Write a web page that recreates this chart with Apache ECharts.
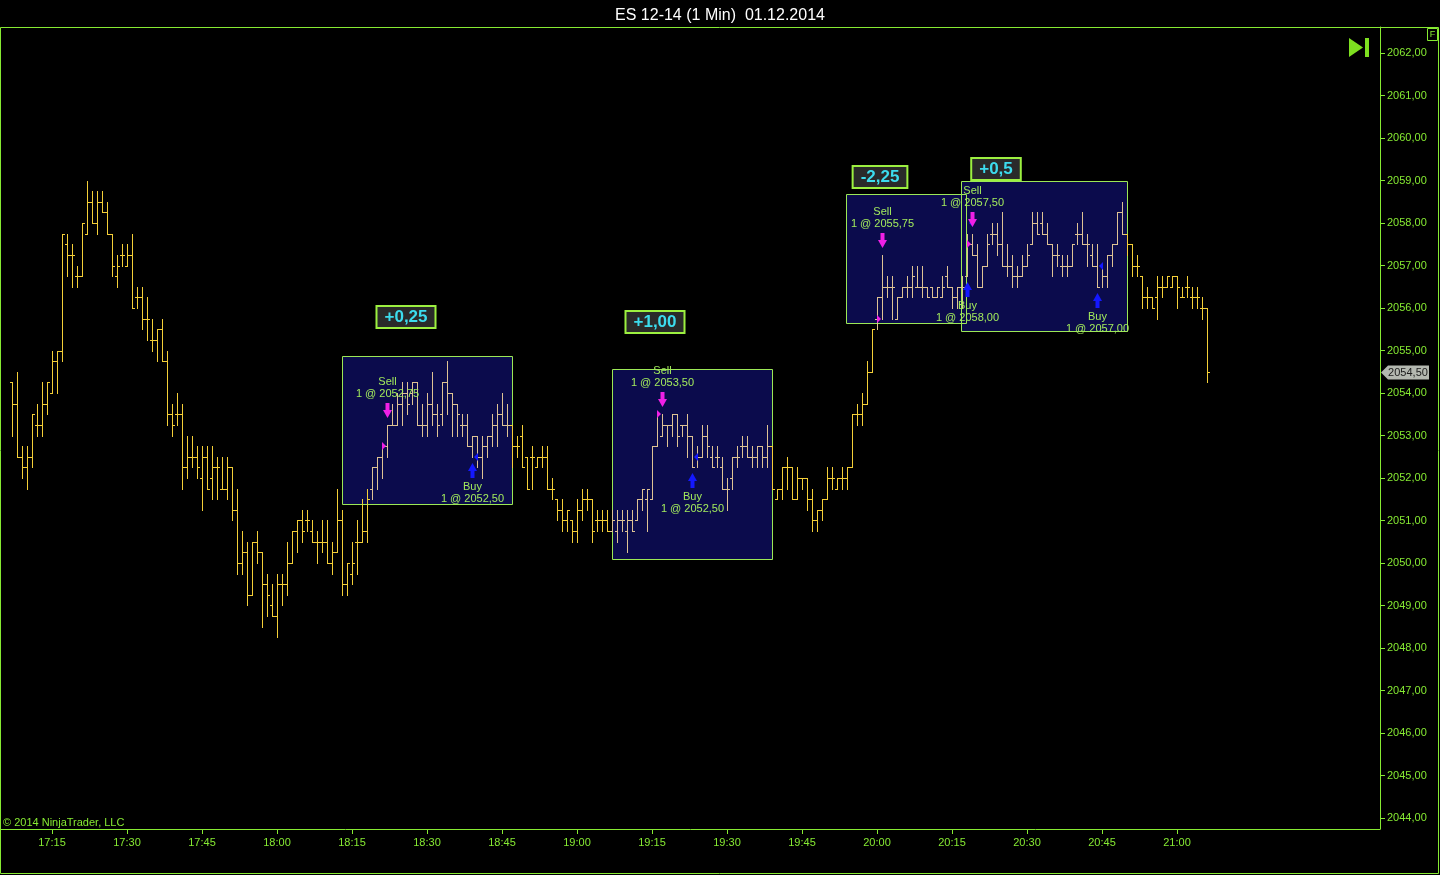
<!DOCTYPE html>
<html>
<head>
<meta charset="utf-8">
<script src="https://cdn.jsdelivr.net/npm/echarts@6/dist/echarts.min.js"></script>
<style>
html,body{margin:0;padding:0;background:#000;}
#c{width:1440px;height:875px;}
</style>
</head>
<body>
<div id="c"></div>
<script>
// ---------------- data ----------------
const chartTitle = 'ES 12-14 (1 Min)  01.12.2014';
const copyrightText = '\u00A9 2014 NinjaTrader, LLC';
const sessionBase = '17:00';          // x values are minutes after this time
const firstBarTime = '17:07';          // one bar per minute from here
const xTickLabels = ['17:15','17:30','17:45','18:00','18:15','18:30','18:45','19:00','19:15','19:30','19:45','20:00','20:15','20:30','20:45','21:00'];
const yTickValues = [2044,2045,2046,2047,2048,2049,2050,2051,2052,2053,2054,2055,2056,2057,2058,2059,2060,2061,2062];

const opens = [
2054.25,2053.75,2052.5,2052.25,2052.5,2053.25,2053.25,2053.75,2054.0,2054.75,
2055.0,2057.5,2057.25,2056.75,2056.75,2057.75,2058.5,2058.0,2058.5,2058.25,
2057.75,2056.75,2057.25,2057.0,2057.25,2056.25,2056.25,2055.75,2055.25,2055.25,
2055.5,2054.75,2053.5,2053.5,2053.5,2052.25,2052.5,2052.5,2052.0,2052.5,
2052.0,2052.25,2051.75,2051.75,2052.25,2051.25,2050.0,2050.25,2049.25,2050.5,
2050.25,2049.5,2049.0,2048.75,2049.5,2049.5,2050.0,2050.75,2051.0,2051.0,
2050.75,2050.5,2050.5,2050.5,2050.0,2050.25,2051.0,2049.5,2049.75,2050.5,
2050.5,2050.75,2051.75,2052.25,2052.5,2052.75,2053.25,2053.25,2053.75,2054.0,
2054.0,2054.25,2053.25,2053.25,2053.75,2053.5,2053.5,2054.25,2054.0,2053.75,
2053.25,2053.25,2052.75,2053.0,2052.5,2052.75,2053.0,2053.25,2053.5,2053.25,
2053.25,2052.75,2053.0,2052.5,2052.5,2052.25,2052.5,2052.5,2051.75,2051.5,
2051.25,2051.0,2051.0,2050.75,2051.25,2051.5,2051.5,2051.0,2051.0,2051.0,
2050.75,2050.75,2051.0,2050.75,2051.0,2051.0,2051.5,2051.5,2051.5,2052.75,
2053.0,2053.25,2053.25,2053.5,2053.25,2053.25,2053.0,2052.5,2052.5,2053.0,
2052.5,2052.5,2052.25,2051.75,2052.0,2052.5,2052.75,2052.75,2052.5,2052.5,
2052.75,2052.5,2052.75,2051.5,2051.75,2052.25,2052.25,2051.5,2052.0,2052.0,
2051.5,2051.0,2051.25,2051.5,2052.0,2051.75,2052.0,2052.0,2052.25,2053.5,
2053.5,2053.75,2054.5,2055.75,2056.25,2056.5,2056.5,2055.75,2056.25,2056.5,
2056.5,2056.5,2056.5,2056.5,2056.5,2056.25,2056.25,2056.75,2056.5,2056.25,
2056.5,2056.75,2057.5,2057.25,2056.5,2057.0,2057.75,2057.75,2057.5,2057.0,
2057.0,2056.75,2056.75,2057.0,2057.5,2058.0,2058.0,2057.75,2057.5,2057.25,
2057.0,2057.0,2057.0,2057.75,2057.75,2057.5,2057.25,2057.0,2057.0,2056.75,
2057.25,2057.5,2058.25,2057.75,2057.5,2057.0,2056.75,2056.25,2056.25,2056.25,
2056.5,2056.5,2056.5,2056.75,2056.25,2056.5,2056.25,2056.25,2056.0,2056.0
];
const highs = [
2054.25,2054.5,2052.75,2052.75,2053.5,2053.75,2054.25,2054.25,2055.0,2055.0,
2057.75,2057.75,2057.5,2057.0,2058.0,2059.0,2058.75,2058.75,2058.75,2058.5,
2057.75,2057.25,2057.5,2057.5,2057.75,2056.5,2056.5,2056.25,2055.75,2055.5,
2055.75,2055.0,2053.75,2054.0,2053.75,2053.0,2053.0,2052.75,2052.75,2052.75,
2052.75,2052.5,2052.5,2052.5,2052.25,2051.75,2050.75,2050.5,2050.5,2050.75,
2050.25,2049.75,2049.5,2049.75,2049.75,2050.5,2050.75,2051.0,2051.25,2051.25,
2051.0,2050.75,2051.0,2051.0,2050.5,2051.75,2051.25,2050.0,2050.5,2051.0,
2051.5,2051.75,2052.25,2052.5,2052.75,2053.25,2053.75,2054.0,2054.25,2054.25,
2054.25,2054.25,2053.75,2054.0,2054.5,2053.75,2054.25,2054.75,2054.0,2053.75,
2053.5,2053.5,2053.0,2053.0,2053.0,2053.0,2053.5,2053.75,2054.0,2053.75,
2053.25,2053.0,2053.25,2052.5,2052.75,2052.5,2052.75,2052.75,2052.0,2051.5,
2051.5,2051.25,2051.0,2051.5,2051.75,2051.75,2051.5,2051.25,2051.25,2051.25,
2051.25,2051.25,2051.25,2051.25,2051.25,2051.5,2051.75,2051.75,2052.75,2053.5,
2053.5,2053.25,2053.5,2053.5,2053.25,2053.5,2053.0,2052.75,2053.25,2053.25,
2052.75,2052.75,2052.5,2052.0,2052.5,2052.75,2053.0,2053.0,2052.75,2052.75,
2052.75,2053.25,2052.75,2051.75,2052.25,2052.5,2052.25,2052.25,2052.0,2052.0,
2051.75,2051.25,2051.5,2052.25,2052.25,2052.0,2052.25,2052.25,2053.5,2053.75,
2054.0,2054.75,2055.5,2056.25,2057.25,2056.75,2056.75,2056.25,2056.5,2056.75,
2057.0,2057.0,2057.0,2056.5,2056.5,2056.5,2056.75,2057.0,2056.5,2056.5,
2056.75,2057.75,2057.75,2057.5,2057.0,2057.75,2058.0,2058.0,2058.25,2057.5,
2057.25,2057.0,2057.25,2057.5,2058.25,2058.25,2058.25,2058.0,2057.5,2057.5,
2057.25,2057.25,2057.5,2058.0,2058.25,2057.75,2057.5,2057.5,2057.0,2057.25,
2057.5,2058.25,2058.5,2057.75,2057.5,2057.25,2056.75,2056.5,2056.25,2056.75,
2056.75,2056.75,2056.75,2056.75,2056.5,2056.75,2056.5,2056.5,2056.25,2056.0
];
const lows = [
2053.0,2052.5,2052.0,2051.75,2052.25,2053.0,2053.0,2053.5,2054.0,2054.0,
2054.75,2056.75,2056.5,2056.5,2056.75,2057.75,2058.0,2057.75,2058.25,2057.75,
2056.75,2056.5,2057.0,2057.0,2056.0,2056.0,2055.5,2055.25,2055.0,2054.75,
2054.75,2053.25,2053.0,2053.25,2051.75,2052.0,2052.25,2052.0,2051.25,2051.75,
2051.5,2051.5,2051.75,2051.5,2051.0,2049.75,2049.75,2049.0,2049.25,2050.0,
2048.5,2048.75,2048.75,2048.25,2049.0,2049.25,2050.0,2050.25,2050.5,2050.75,
2050.5,2050.0,2050.25,2050.0,2049.75,2050.25,2049.25,2049.25,2049.5,2049.75,
2050.5,2050.5,2051.5,2051.75,2052.0,2052.5,2053.25,2053.25,2053.25,2053.5,
2053.75,2053.25,2053.0,2053.0,2053.25,2053.0,2053.25,2053.5,2053.0,2053.0,
2053.0,2052.75,2052.5,2052.25,2052.0,2052.5,2052.75,2052.75,2053.25,2053.0,
2052.25,2052.5,2052.25,2051.75,2051.75,2052.25,2052.25,2051.75,2051.5,2051.0,
2050.75,2050.75,2050.5,2050.5,2051.0,2051.25,2050.5,2050.75,2050.75,2050.75,
2050.75,2050.5,2050.75,2050.25,2050.75,2051.0,2051.25,2050.75,2051.5,2052.75,
2053.0,2052.75,2053.0,2052.75,2053.0,2052.5,2052.25,2052.25,2052.5,2052.5,
2052.25,2052.25,2051.75,2051.25,2051.75,2052.25,2052.5,2052.5,2052.25,2052.25,
2052.25,2052.25,2051.75,2051.5,2051.5,2051.75,2051.5,2051.5,2051.75,2051.25,
2050.75,2050.75,2051.0,2051.5,2051.75,2051.75,2051.75,2051.75,2052.25,2053.25,
2053.25,2053.75,2054.5,2055.5,2055.75,2056.25,2055.75,2055.75,2056.25,2056.25,
2056.25,2056.5,2056.25,2056.25,2056.25,2056.25,2056.25,2056.5,2056.0,2056.0,
2056.0,2056.75,2057.25,2056.5,2056.5,2057.0,2057.5,2057.25,2057.0,2056.75,
2056.5,2056.5,2056.75,2057.0,2057.5,2057.75,2057.75,2057.5,2056.75,2057.0,
2056.75,2056.75,2057.0,2057.5,2057.5,2057.0,2057.0,2056.5,2056.5,2056.5,
2057.0,2057.5,2057.75,2057.25,2056.75,2056.75,2056.0,2056.0,2056.0,2055.75,
2056.25,2056.5,2056.5,2056.0,2056.25,2056.25,2056.0,2056.0,2055.75,2054.25
];
const closes = [
2053.75,2052.5,2052.25,2052.5,2053.5,2053.25,2053.75,2054.25,2054.75,2055.0,
2057.75,2057.25,2057.25,2056.75,2058.0,2058.5,2058.0,2058.5,2058.25,2057.75,
2057.0,2057.0,2057.25,2057.25,2056.0,2056.25,2055.75,2055.75,2055.25,2055.5,
2054.75,2053.5,2053.25,2053.5,2052.25,2052.5,2052.5,2052.25,2052.5,2051.75,
2052.25,2052.25,2051.75,2052.25,2051.25,2050.0,2050.25,2049.25,2050.5,2050.25,
2049.5,2049.25,2048.75,2049.5,2049.5,2050.0,2050.75,2051.0,2050.75,2051.0,
2050.5,2050.5,2050.5,2050.0,2050.25,2051.0,2049.5,2050.0,2050.0,2050.5,
2050.75,2051.5,2052.25,2052.5,2052.75,2053.25,2053.25,2053.75,2054.0,2053.75,
2054.25,2053.25,2053.25,2053.75,2053.5,2053.25,2054.25,2054.0,2053.75,2053.5,
2053.25,2052.75,2053.0,2052.5,2052.75,2053.0,2053.25,2053.5,2053.25,2053.25,
2052.75,2052.75,2052.25,2051.75,2052.5,2052.5,2052.5,2051.75,2051.75,2051.25,
2051.0,2051.25,2050.75,2051.25,2051.5,2051.5,2050.75,2051.0,2051.0,2050.75,
2051.0,2051.0,2051.0,2051.0,2050.75,2051.5,2051.75,2051.75,2052.75,2053.5,
2053.25,2053.25,2053.5,2053.0,2053.25,2053.0,2052.25,2052.5,2053.0,2052.75,
2052.25,2052.5,2051.75,2051.75,2052.5,2052.5,2052.75,2052.5,2052.5,2052.75,
2052.5,2052.75,2051.75,2051.75,2052.25,2052.25,2051.5,2052.0,2052.0,2051.5,
2051.0,2051.25,2051.5,2052.0,2052.0,2052.0,2052.0,2052.25,2053.5,2053.5,
2053.75,2054.5,2055.5,2056.25,2056.5,2056.5,2056.5,2056.25,2056.5,2056.5,
2056.75,2056.5,2056.5,2056.25,2056.25,2056.5,2056.5,2056.5,2056.25,2056.5,
2056.5,2057.5,2057.25,2056.5,2057.0,2057.5,2057.75,2057.5,2057.0,2057.0,
2056.75,2056.75,2057.0,2057.25,2058.0,2057.75,2057.75,2057.5,2057.25,2057.25,
2057.0,2057.0,2057.5,2057.75,2057.5,2057.5,2057.0,2056.5,2056.75,2057.25,
2057.5,2058.25,2057.75,2057.5,2057.0,2057.0,2056.25,2056.25,2056.0,2056.5,
2056.5,2056.75,2056.75,2056.5,2056.25,2056.5,2056.25,2056.25,2056.0,2054.5
];

// trades
const tradeSellTimes  = ['18:22','19:17','20:01','20:19'];
const tradeSellPrices = [2052.75, 2053.50, 2055.75, 2057.50];
const tradeBuyTimes   = ['18:39','19:23','20:18','20:44'];
const tradeBuyPrices  = [2052.50, 2052.50, 2058.00, 2057.00];
const tradePnL        = ['+0,25', '+1,00', '-2,25', '+0,5'];
// P&L label anchor [minutes after 17:00, price]
const tradePnLAnchor  = [[85.7, 2055.78], [135.6, 2055.68], [180.6, 2059.08], [203.8, 2059.27]];
// drawn trade rectangles [minuteFrom, minuteTo, priceLow, priceHigh]
const tradeBoxes = [
  [72.9, 106.9, 2051.40, 2054.88],
  [126.9, 158.9, 2050.10, 2054.56],
  [173.8, 197.8, 2055.64, 2058.68],
  [196.8, 229.9, 2055.48, 2059.00]
];

// ---------------- helpers ----------------
const FONT = '"Liberation Sans", Arial, sans-serif';
const GREEN = '#86ea32';
const BAR_COLOR = '#f4cf38';
const BAR_IN_BOX = '#dec394';
function minutesOf(s){ const p = s.split(':'); return (+p[0])*60 + (+p[1]); }
const baseMin = minutesOf(sessionBase);
const rel = s => minutesOf(s) - baseMin;
const firstBar = rel(firstBarTime);
const fmtPrice = v => v.toFixed(2).replace('.', ',');

const barData = opens.map((o, i) => [firstBar + i, o, highs[i], lows[i], closes[i]]);
const xTickValues = xTickLabels.map(rel);
const labelByValue = {};
xTickLabels.forEach(l => { labelByValue[rel(l)] = l; });

function inBox(t, p){
  return tradeBoxes.some(b => t > b[0] && t < b[1] && p > b[2] && p < b[3]);
}

function renderBar(params, api){
  const t = api.value(0);
  const o = api.coord([t, api.value(1)]);
  const h = api.coord([t, api.value(2)]);
  const l = api.coord([t, api.value(3)]);
  const c = api.coord([t, api.value(4)]);
  const px = Math.round(h[0]);
  const x = px + 0.5;
  const yH = Math.round(h[1]), yL = Math.round(l[1]);
  const yO = Math.round(o[1]) + 0.5, yC = Math.round(c[1]) + 0.5;
  const col = inBox(t, (api.value(2) + api.value(3)) / 2) ? BAR_IN_BOX : BAR_COLOR;
  const st = {stroke: col, lineWidth: 1};
  return {type: 'group', children: [
    {type: 'line', shape: {x1: x, y1: yH, x2: x, y2: yL + 1}, style: st},
    {type: 'line', shape: {x1: px - 2, y1: yO, x2: px, y2: yO}, style: st},
    {type: 'line', shape: {x1: px + 1, y1: yC, x2: px + 3, y2: yC}, style: st}
  ]};
}

function boxRect(api, i){
  const b = tradeBoxes[i];
  const p1 = api.coord([b[0], b[3]]);
  const p2 = api.coord([b[1], b[2]]);
  return {x: Math.round(p1[0]) + 0.5, y: Math.round(p1[1]) + 0.5,
          width: Math.round(p2[0] - p1[0]), height: Math.round(p2[1] - p1[1])};
}

function renderBoxFill(params, api){
  return {type: 'rect', shape: boxRect(api, params.dataIndex), style: {fill: '#0b0b4c'}};
}
function renderBoxBorder(params, api){
  return {type: 'rect', shape: boxRect(api, params.dataIndex), style: {fill: 'none', stroke: '#9ce856', lineWidth: 1}};
}

function renderTrade(params, api){
  const i = params.dataIndex;
  const children = [];
  const txt = (text, x, y, va) => ({type: 'text', style: {text: text, x: x, y: y, align: 'center', verticalAlign: va, fill: '#a2ea5c', font: '11px ' + FONT, lineHeight: 12}});
  // sell
  const sT = rel(tradeSellTimes[i]);
  const sIdx = sT - firstBar;
  const sTop = api.coord([sT, highs[sIdx]]);
  const sx = Math.round(sTop[0]);
  const tip = Math.round(sTop[1]) - 7;
  const at = tip - 15;
  children.push({type: 'polygon', shape: {points: [[sx - 1.5, at], [sx + 2.5, at], [sx + 2.5, at + 7], [sx + 5, at + 7], [sx + 0.5, tip], [sx - 4, at + 7], [sx - 1.5, at + 7]]}, style: {fill: '#f020e6'}});
  children.push(txt('Sell\n1 @ ' + fmtPrice(tradeSellPrices[i]), sx + 0.5, at - 3, 'bottom'));
  const sp = api.coord([sT, tradeSellPrices[i]]);
  const spy = Math.round(sp[1]);
  children.push({type: 'polygon', shape: {points: [[sx - 5, spy - 4], [sx - 1, spy], [sx - 5, spy + 4]]}, style: {fill: '#f020e6'}});
  // buy
  const bT = rel(tradeBuyTimes[i]);
  const bIdx = bT - firstBar;
  const bLow = api.coord([bT, lows[bIdx]]);
  const bx = Math.round(bLow[0]);
  const btip = Math.round(bLow[1]) + 6;
  const bb = btip + 15;
  children.push({type: 'polygon', shape: {points: [[bx - 1.5, bb], [bx + 2.5, bb], [bx + 2.5, btip + 8], [bx + 5, btip + 8], [bx + 0.5, btip], [bx - 4, btip + 8], [bx - 1.5, btip + 8]]}, style: {fill: '#1418ff'}});
  children.push(txt('Buy\n1 @ ' + fmtPrice(tradeBuyPrices[i]), bx + 0.5, bb + 3, 'top'));
  const bp = api.coord([bT, tradeBuyPrices[i]]);
  const bpy = Math.round(bp[1]);
  children.push({type: 'polygon', shape: {points: [[bx + 6, bpy - 4], [bx + 2, bpy], [bx + 6, bpy + 4]]}, style: {fill: '#1418ff'}});
  return {type: 'group', children: children};
}

function renderPnL(params, api){
  const i = params.dataIndex;
  const p = api.coord(tradePnLAnchor[i]);
  return {type: 'text', style: {
    text: tradePnL[i], x: Math.round(p[0]), y: Math.round(p[1]), align: 'center', verticalAlign: 'middle',
    fill: '#3cdcee', font: 'bold 17px ' + FONT,
    backgroundColor: '#2a2a2a', borderColor: '#9cf040', borderWidth: 2, padding: [2, 7, 1, 7]
  }};
}

function renderLastTag(params, api){
  const p = api.coord([api.value(0), api.value(1)]);
  const x = 1381, y = Math.round(p[1]) + 0.5;
  return {type: 'group', children: [
    {type: 'polygon', shape: {points: [[x, y], [x + 7, y - 7], [x + 48, y - 7], [x + 48, y + 7], [x + 7, y + 7]]}, style: {fill: '#b4b8b0'}},
    {type: 'text', style: {text: fmtPrice(api.value(1)), x: x + 27, y: y, align: 'center', verticalAlign: 'middle', fill: '#1a1a1a', font: '11px ' + FONT}}
  ]};
}

const chart = echarts.init(document.getElementById('c'), null, {renderer: 'canvas'});
const lastT = firstBar + closes.length - 1;

chart.setOption({
  backgroundColor: '#000',
  animation: false,
  title: {text: chartTitle, left: 'center', top: 3, textStyle: {color: '#ffffff', fontSize: 16, fontWeight: 'normal', fontFamily: FONT}},
  grid: {left: 1, right: 60, top: 27, bottom: 46, show: false},
  xAxis: {
    type: 'value', min: 4.8, max: 280.6,
    axisLine: {show: true, onZero: false, lineStyle: {color: GREEN, width: 1}},
    axisTick: {show: true, length: 5, lineStyle: {color: GREEN}, customValues: xTickValues},
    axisLabel: {color: GREEN, fontSize: 11, fontFamily: FONT, margin: 8, customValues: xTickValues, formatter: v => labelByValue[v] || ''},
    splitLine: {show: false}
  },
  yAxis: {
    type: 'value', position: 'right', min: 2043.741, max: 2062.612, scale: true,
    axisLine: {show: true, lineStyle: {color: GREEN, width: 1}},
    axisTick: {show: true, length: 5, lineStyle: {color: GREEN}, customValues: yTickValues},
    axisLabel: {color: GREEN, fontSize: 11, fontFamily: FONT, margin: 7, customValues: yTickValues, formatter: v => fmtPrice(v)},
    splitLine: {show: false}
  },
  series: [
    {type: 'custom', name: 'boxFill', silent: true, z: 1, clip: false, renderItem: renderBoxFill, data: tradeBoxes.map(b => [b[0], b[3]])},
    {type: 'custom', name: 'boxBorder', silent: true, z: 2, clip: false, renderItem: renderBoxBorder, data: tradeBoxes.map(b => [b[0], b[3]])},
    {type: 'custom', name: 'ES 12-14', silent: true, z: 3, clip: false, renderItem: renderBar, data: barData, encode: {x: 0, y: [1, 2, 3, 4]}},
    {type: 'custom', name: 'trades', silent: true, z: 4, clip: false, renderItem: renderTrade, data: tradeSellTimes.map(s => [rel(s), 0])},
    {type: 'custom', name: 'pnl', silent: true, z: 5, clip: false, renderItem: renderPnL, data: tradePnLAnchor},
    {type: 'custom', name: 'last', silent: true, z: 6, clip: false, renderItem: renderLastTag, data: [[lastT, closes[closes.length - 1]]]}
  ],
  graphic: [
    {type: 'rect', shape: {x: 0.5, y: 27.5, width: 1438, height: 846}, style: {fill: 'none', stroke: GREEN, lineWidth: 1}, z: 10, silent: true},
    {type: 'polygon', shape: {points: [[1349, 38], [1363, 47.5], [1349, 57]]}, style: {fill: '#7ee020'}, z: 10, silent: true},
    {type: 'rect', shape: {x: 1365, y: 38, width: 4, height: 19}, style: {fill: '#7ee020'}, z: 10, silent: true},
    {type: 'rect', shape: {x: 1427.5, y: 28.5, width: 10, height: 12}, style: {fill: '#000', stroke: GREEN, lineWidth: 1}, z: 10, silent: true},
    {type: 'text', style: {text: 'F', x: 1432.5, y: 35, align: 'center', verticalAlign: 'middle', fill: GREEN, font: '9px ' + FONT}, z: 11, silent: true},
    {type: 'text', style: {text: copyrightText, x: 3, y: 823, verticalAlign: 'middle', fill: GREEN, font: '11px ' + FONT}, z: 10, silent: true}
  ]
});
</script>
</body>
</html>
